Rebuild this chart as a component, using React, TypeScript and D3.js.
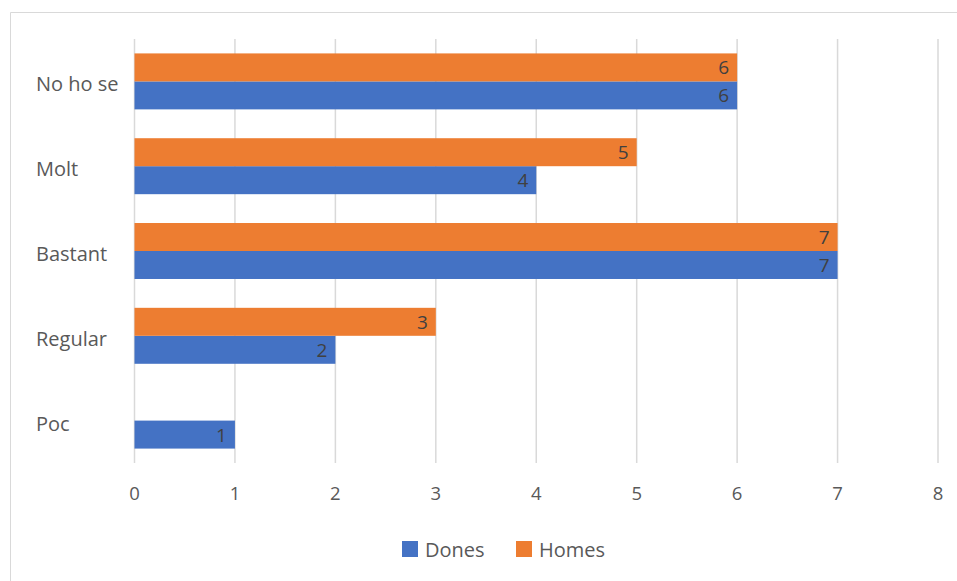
import React from "react";
import * as d3 from "d3";

const categories = ["No ho se", "Molt", "Bastant", "Regular", "Poc"];
const dones = [6, 4, 7, 2, 1];
const homes = [6, 5, 7, 3, 0];
const seriesNames = ["Dones", "Homes"];
const seriesColors = ["#4472C4", "#ED7D31"];
const xTicks = [0, 1, 2, 3, 4, 5, 6, 7, 8];

const W = 957;
const H = 581;
const FONT = "'Open Sans', 'Liberation Sans', sans-serif";

export default function App() {
  const x = d3.scaleLinear().domain([0, 8]).range([134.5, 938]);
  const y = d3.scaleBand<string>().domain(categories).range([39, 463]).paddingInner(0.34).paddingOuter(0.17);
  const inner = d3.scaleBand<string>().domain(["Homes", "Dones"]).range([0, y.bandwidth()]);
  const series = [
    { name: "Dones", values: dones, color: seriesColors[0] },
    { name: "Homes", values: homes, color: seriesColors[1] },
  ];
  const gridTop = 39;
  const gridBottom = 463;

  return (
    <svg width={W} height={H} style={{ position: "absolute", left: 0, top: 0, background: "#fff" }} fontFamily={FONT}>
      <rect x={0} y={0} width={W} height={H} fill="#fff" />
      <line x1={10.5} y1={12.5} x2={W} y2={12.5} stroke="#d9d9d9" />
      <line x1={10.5} y1={12.5} x2={10.5} y2={H} stroke="#d9d9d9" />
      {xTicks.map((t) => (
        <g key={t}>
          <line x1={x(t)} x2={x(t)} y1={gridTop} y2={gridBottom} stroke="#d9d9d9" strokeWidth={1.5} />
          <text x={x(t)} y={500} textAnchor="middle" fontSize={18.5} fill="#595959">{t}</text>
        </g>
      ))}
      {categories.map((c, i) => (
        <g key={c}>
          <text x={36} y={(y(c) ?? 0) + y.bandwidth() / 2 + 10} fontSize={20} fill="#595959">{c}</text>
          {series.map((s) => {
            const v = s.values[i];
            if (!v) return null;
            const by = (y(c) ?? 0) + (inner(s.name) ?? 0);
            const bh = inner.bandwidth();
            return (
              <g key={s.name}>
                <rect x={x(0)} y={by} width={x(v) - x(0)} height={bh} fill={s.color} />
                <text x={x(v) - 8} y={by + bh / 2 + 7} textAnchor="end" fontSize={19} fill="#404040">{v}</text>
              </g>
            );
          })}
        </g>
      ))}
      <g>
        <rect x={402} y={541} width={16} height={16} fill={seriesColors[0]} />
        <text x={425} y={557} fontSize={20} fill="#595959">{seriesNames[0]}</text>
        <rect x={516} y={541} width={16} height={16} fill={seriesColors[1]} />
        <text x={539} y={557} fontSize={20} fill="#595959">{seriesNames[1]}</text>
      </g>
    </svg>
  );
}
